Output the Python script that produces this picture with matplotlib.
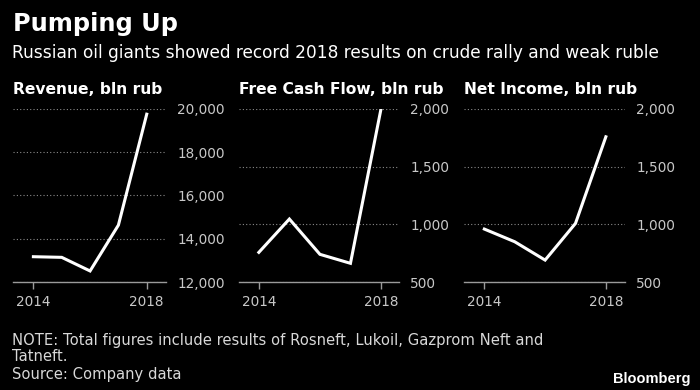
import numpy as np
import matplotlib as mpl
from matplotlib import pyplot as plt

mpl.rcParams['font.family'] = ['DejaVu Sans']

years = [2014, 2015, 2016, 2017, 2018]
revenue = [13170, 13140, 12510, 14630, 19760]
free_cash_flow = [757, 1046, 740, 662, 2000]
net_income = [959, 849, 690, 1008, 1759]

titles = ['Revenue, bln rub', 'Free Cash Flow, bln rub', 'Net Income, bln rub']
series = [revenue, free_cash_flow, net_income]
yticks = [[12000, 14000, 16000, 18000, 20000],
          [500, 1000, 1500, 2000],
          [500, 1000, 1500, 2000]]
xticks = [2014, 2018]

bg = 'black'
W, H = 700., 390.
fig = plt.figure(figsize=(7, 3.9), dpi=100, facecolor=bg)

# axes left edge / width in px, x limits
boxes = [(13, 153, (2013.28, 2018.68)),
         (239, 160, (2013.35, 2018.59)),
         (464, 161, (2013.33, 2018.63))]
title_x = [13, 239, 464]
bottom = 1 - 282 / H
height = (282 - 109) / H

for (left, w, xl), tx, title, vals, yt in zip(boxes, title_x, titles, series, yticks):
    ax = fig.add_axes([left / W, bottom, w / W, height])
    ax.set_facecolor(bg)
    ax.plot(years, vals, color='white', lw=2.2, solid_joinstyle='miter')
    ax.set_xlim(*xl)
    ax.set_ylim(yt[0], yt[-1])
    ax.set_yticks(yt)
    ax.set_yticklabels(['{:,}'.format(v) for v in yt])
    ax.set_xticks(xticks)
    ax.yaxis.tick_right()
    ax.tick_params(axis='y', length=0, pad=8, labelsize=9.8, labelcolor='#c8c8c8')
    ax.tick_params(axis='x', length=5, width=1, color='#9a9a9a', pad=4,
                   labelsize=9.8, labelcolor='#c8c8c8')
    for t in ax.get_yticklabels():
        t.set_horizontalalignment('left')
    for s in ['top', 'right', 'left']:
        ax.spines[s].set_visible(False)
    ax.spines['bottom'].set_color('#9a9a9a')
    ax.spines['bottom'].set_linewidth(1)
    ax.grid(axis='y', color='#8a8a8a', linestyle=(0, (1, 2)), lw=0.8)
    ax.set_axisbelow(True)
    fig.text(tx / W, 1 - 94.5 / H, title, color='white', fontsize=11.2,
             fontweight='bold', va='baseline', ha='left')

fig.text(13 / W, 1 - 30.5 / H, 'Pumping Up', color='white', fontsize=17.3,
         fontweight='bold', va='baseline', ha='left')
fig.text(12 / W, 1 - 57.5 / H,
         'Russian oil giants showed record 2018 results on crude rally and weak ruble',
         color='white', fontsize=12.25, va='baseline', ha='left')
fig.text(12 / W, 1 - 344.5 / H,
         'NOTE: Total figures include results of Rosneft, Lukoil, Gazprom Neft and',
         color='#d8d8d8', fontsize=10.6, va='baseline', ha='left')
fig.text(12 / W, 1 - 361 / H, 'Tatneft.',
         color='#d8d8d8', fontsize=10.6, va='baseline', ha='left')
fig.text(12 / W, 1 - 378.5 / H, 'Source: Company data',
         color='#d8d8d8', fontsize=10.6, va='baseline', ha='left')
fig.text(690 / W, 1 - 383 / H, 'Bloomberg', color='white', fontsize=10.5,
         fontweight='bold', va='baseline', ha='right',
         family=['Liberation Sans', 'DejaVu Sans'])

fig.savefig('out.png', dpi=100, facecolor=bg)
